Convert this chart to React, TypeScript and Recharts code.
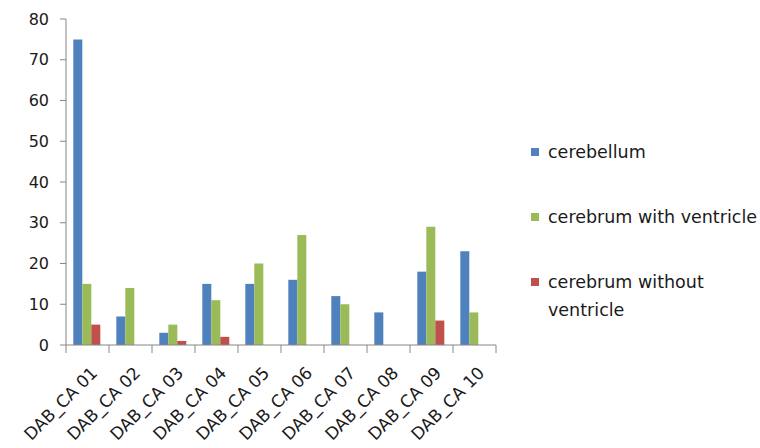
import React from 'react';
import { BarChart, Bar, XAxis, YAxis, Legend } from 'recharts';

const samples = ['DAB_CA 01', 'DAB_CA 02', 'DAB_CA 03', 'DAB_CA 04', 'DAB_CA 05', 'DAB_CA 06', 'DAB_CA 07', 'DAB_CA 08', 'DAB_CA 09', 'DAB_CA 10'];
const cerebellum = [75, 7, 3, 15, 15, 16, 12, 8, 18, 23];
const withVentricle = [15, 14, 5, 11, 20, 27, 10, 0, 29, 8];
const withoutVentricle = [5, 0, 1, 2, 0, 0, 0, 0, 6, 0];
const yTicks = [0, 10, 20, 30, 40, 50, 60, 70, 80];

const series = [
  { key: 'cerebellum', name: 'cerebellum', color: '#4F81BD' },
  { key: 'withVentricle', name: 'cerebrum with ventricle', color: '#9BBB59' },
  { key: 'withoutVentricle', name: 'cerebrum without ventricle', color: '#C0504D' },
];

const data = samples.map((name, i) => ({
  name,
  cerebellum: cerebellum[i],
  withVentricle: withVentricle[i],
  withoutVentricle: withoutVentricle[i],
}));

const W = 760;
const H = 448;
const margin = { top: 19, right: 264, bottom: 0, left: 0 };
const yAxisWidth = 66;
const xAxisHeight = 103;
const band = (W - margin.right - yAxisWidth) / samples.length;
const FONT = '"DejaVu Sans", sans-serif';
const AXIS = '#868686';
const INK = '#1a1a1a';

// Excel-style category axis: tick marks sit on the borders between groups
const CategoryTick = (props: any) => {
  const { x, y, payload, index } = props;
  const left = x - band / 2;
  const ax = x + 11;
  const ay = y + 29;
  return (
    <g>
      <line x1={left} y1={y} x2={left} y2={y + 8} stroke={AXIS} />
      {index === samples.length - 1 && (
        <line x1={x + band / 2} y1={y} x2={x + band / 2} y2={y + 8} stroke={AXIS} />
      )}
      <text
        x={ax}
        y={ay}
        textAnchor="end"
        fill={INK}
        fontSize={17}
        fontFamily={FONT}
        transform={`rotate(-45, ${ax}, ${ay})`}
      >
        {payload.value}
      </text>
    </g>
  );
};

const renderLegend = () => (
  <div style={{ fontFamily: FONT, fontSize: 17.5, color: INK }}>
    {series.map((s) => (
      <div key={s.key} style={{ display: 'flex', alignItems: 'flex-start', marginBottom: 37 }}>
        <span style={{ width: 8, height: 8, background: s.color, marginTop: 10, marginRight: 9, flexShrink: 0 }} />
        <span style={{ lineHeight: '28px', width: 212 }}>{s.name}</span>
      </div>
    ))}
  </div>
);

export default function App() {
  return (
    <div style={{ position: 'absolute', left: 0, top: 0, width: W, height: H, background: '#fff' }}>
      <BarChart width={W} height={H} data={data} margin={margin} barGap={0} barCategoryGap="17%">
        <XAxis
          dataKey="name"
          height={xAxisHeight}
          stroke={AXIS}
          tickLine={false}
          tickSize={0}
          tickMargin={0}
          interval={0}
          tick={<CategoryTick />}
        />
        <YAxis
          width={yAxisWidth}
          domain={[0, 80]}
          ticks={yTicks}
          stroke={AXIS}
          tickSize={6}
          tickMargin={11}
          tick={{ fill: INK, fontSize: 16, fontFamily: FONT }}
        />
        <Legend
          layout="vertical"
          align="center"
          verticalAlign="middle"
          wrapperStyle={{ left: 531, top: 138, width: 229 }}
          content={renderLegend}
        />
        {series.map((s) => (
          <Bar key={s.key} dataKey={s.key} name={s.name} fill={s.color} isAnimationActive={false} />
        ))}
      </BarChart>
    </div>
  );
}
